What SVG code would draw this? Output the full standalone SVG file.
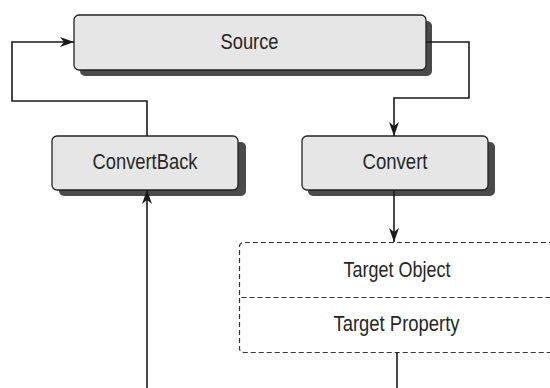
<svg xmlns="http://www.w3.org/2000/svg" width="550" height="388" viewBox="0 0 550 388">
  <style>
    .shadow { fill: #4a4a4a; }
    .box { fill: #e6e6e7; stroke: #222; stroke-width: 1.3; }
    .lbl { font-family: "Liberation Sans", Arial, sans-serif; font-size: 22px; fill: #262626; text-anchor: middle; }
    .conn { fill: none; stroke: #1a1a1a; stroke-width: 1.6; }
    .dash { fill: none; stroke: #333; stroke-width: 1.2; stroke-dasharray: 5 3; }
  </style>
  <defs>
    <marker id="arr" viewBox="0 0 14 10" refX="14" refY="5" markerWidth="14" markerHeight="10" markerUnits="userSpaceOnUse" orient="auto">
      <path d="M0,0 L14,5 L0,10 L4,5 Z" fill="#1a1a1a"/>
    </marker>
  </defs>
  <rect width="550" height="388" fill="#ffffff"/>

  <g id="target">
    <path class="dash" d="M570,242.5 H243.5 A4,4 0 0 0 239.5,246.5 V348.5 A4,4 0 0 0 243.5,352.5 H570"/>
    <path class="dash" d="M241.5,297.5 H570"/>
    <text class="lbl" x="397" y="277" textLength="107" lengthAdjust="spacingAndGlyphs">Target Object</text>
    <text class="lbl" x="396.5" y="331" textLength="126" lengthAdjust="spacingAndGlyphs">Target Property</text>
  </g>

  <g id="source">
    <rect class="shadow" x="80" y="21" width="352" height="55" rx="5"/>
    <rect class="box" x="74" y="15" width="352" height="55" rx="5"/>
    <text class="lbl" x="249.5" y="48.5" textLength="58" lengthAdjust="spacingAndGlyphs">Source</text>
  </g>

  <g id="convertback">
    <rect class="shadow" x="59" y="142" width="187" height="54" rx="5"/>
    <rect class="box" x="52" y="136" width="186" height="54" rx="5"/>
    <text class="lbl" x="145" y="169" textLength="105" lengthAdjust="spacingAndGlyphs">ConvertBack</text>
  </g>

  <g id="convert">
    <rect class="shadow" x="308" y="142" width="187" height="54" rx="5"/>
    <rect class="box" x="302" y="136" width="186" height="54" rx="5"/>
    <text class="lbl" x="395" y="169" textLength="65" lengthAdjust="spacingAndGlyphs">Convert</text>
  </g>

  <g id="connectors">
    <polyline class="conn" points="147,136 147,101 12,101 12,42 74,42" marker-end="url(#arr)"/>
    <polyline class="conn" points="426,42 469,42 469,98 394,98 394,136" marker-end="url(#arr)"/>
    <polyline class="conn" points="394,190 394,242" marker-end="url(#arr)"/>
    <polyline class="conn" points="147,388 147,190" marker-end="url(#arr)"/>
    <polyline class="conn" points="397,352 397,388"/>
  </g>
</svg>
